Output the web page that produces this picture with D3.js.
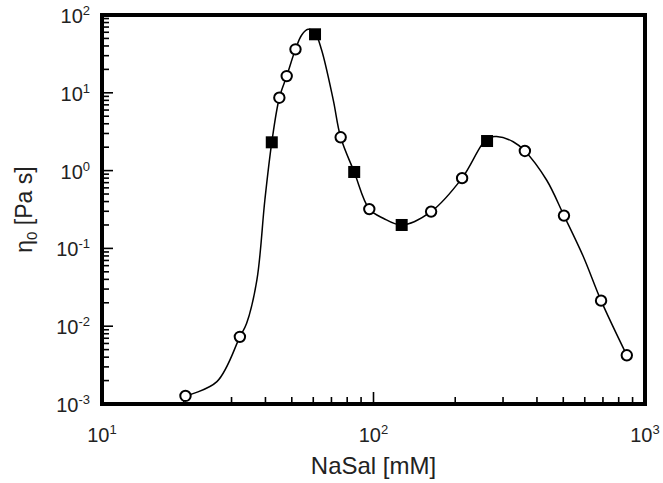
<!DOCTYPE html>
<html><head><meta charset="utf-8">
<script src="https://cdn.jsdelivr.net/npm/d3@7"></script>
<style>body{margin:0;background:#fff}svg{display:block}</style>
</head><body>
<svg id="c" width="663" height="483"></svg>
<script>
// open circles
const circleX = [20.3, 32.2, 45.0, 47.9, 51.6, 75.7, 96.5, 163, 212, 361, 503, 689, 857];
const circleY = [0.00127, 0.0073, 8.65, 16.4, 36.2, 2.68, 0.32, 0.297, 0.80, 1.79, 0.264, 0.0213, 0.00423];
// filled squares
const squareX = [42.2, 60.9, 84.9, 127, 262];
const squareY = [2.31, 56.5, 0.96, 0.20, 2.40];
// fitted line
const fitX = [20.3, 26.5, 32.2, 34.1, 37.2, 39.8, 42.2, 45.0, 47.9, 51.6, 54.4, 57.4, 60.9, 64.4, 71.1, 75.7, 84.9, 96.5, 108.6, 127, 163, 212, 262, 284, 327, 361, 434, 503, 593, 689, 857];
const fitY = [0.00127, 0.00194, 0.0073, 0.0109, 0.0393, 0.419, 2.31, 8.65, 16.4, 36.2, 55.4, 65.5, 58.8, 35.5, 8.07, 2.68, 0.96, 0.32, 0.244, 0.20, 0.297, 0.80, 2.59, 2.74, 2.35, 1.79, 0.757, 0.264, 0.0782, 0.0213, 0.00423];
const xTickExp = [1, 2, 3];
const yTickExp = [-3, -2, -1, 0, 1, 2];
const xTitle = "NaSal [mM]";

const svg = d3.select("#c");
const L = 102, R = 645, T = 15, B = 404;
const x = d3.scaleLog().domain([10, 1000]).range([L, R]);
const y = d3.scaleLog().domain([1e-3, 1e2]).range([B, T]);
const font = "'Liberation Sans', Arial, sans-serif";

// minor + major ticks
const xMinor = [], yMinor = [];
for (let e = 1; e < 3; e++) for (let m = 2; m <= 9; m++) xMinor.push(m * Math.pow(10, e));
for (let e = -3; e < 2; e++) for (let m = 2; m <= 9; m++) yMinor.push(m * Math.pow(10, e));
const tg = svg.append("g").attr("stroke", "#000").attr("stroke-width", 1.6);
tg.selectAll(".xm").data(xMinor).join("line")
  .attr("x1", d => x(d)).attr("x2", d => x(d)).attr("y1", B).attr("y2", B - 7);
tg.selectAll(".xM").data(xTickExp).join("line")
  .attr("x1", d => x(Math.pow(10, d))).attr("x2", d => x(Math.pow(10, d))).attr("y1", B).attr("y2", B - 12);
tg.selectAll(".ym").data(yMinor).join("line")
  .attr("y1", d => y(d)).attr("y2", d => y(d)).attr("x1", L).attr("x2", L + 7);
tg.selectAll(".yM").data(yTickExp).join("line")
  .attr("y1", d => y(Math.pow(10, d))).attr("y2", d => y(Math.pow(10, d))).attr("x1", L).attr("x2", L + 11);

// frame
svg.append("path").attr("d", `M${L},${T}H${R}V${B}H${L}Z`)
  .attr("fill", "none").attr("stroke", "#000").attr("stroke-width", 4).attr("stroke-linejoin", "miter");

// tick labels
const xl = svg.selectAll(".xl").data(xTickExp).join("text")
  .attr("x", d => x(Math.pow(10, d))).attr("y", 442)
  .attr("text-anchor", "middle").attr("font-family", font).attr("font-size", 20).attr("fill", "#222");
xl.append("tspan").text("10");
xl.append("tspan").attr("font-size", 13).attr("dy", -8).text(d => d);

const yl = svg.selectAll(".yl").data(yTickExp).join("text")
  .attr("x", 90).attr("y", d => y(Math.pow(10, d)) + 8)
  .attr("text-anchor", "end").attr("font-family", font).attr("font-size", 20).attr("fill", "#222");
yl.append("tspan").text("10");
yl.append("tspan").attr("font-size", 13).attr("dy", -8).text(d => d);

// axis titles
svg.append("text").attr("x", (L + R) / 2).attr("y", 474).attr("text-anchor", "middle")
  .attr("font-family", font).attr("font-size", 24).attr("fill", "#222").text(xTitle);
const yt = svg.append("text").attr("transform", `translate(32,${(T + B) / 2}) rotate(-90)`)
  .attr("text-anchor", "middle").attr("font-family", font).attr("font-size", 23).attr("fill", "#222");
yt.append("tspan").text("η");
yt.append("tspan").attr("font-size", 15).attr("dy", 5).text("0");
yt.append("tspan").attr("dy", -5).text(" [Pa s]");

// fitted curve
const fit = fitX.map((v, i) => [v, fitY[i]]);
svg.append("path").datum(fit)
  .attr("d", d3.line().x(d => x(d[0])).y(d => y(d[1])).curve(d3.curveCatmullRom.alpha(0.5)))
  .attr("fill", "none").attr("stroke", "#000").attr("stroke-width", 1.5);

// markers
svg.selectAll(".ci").data(circleX.map((v, i) => [v, circleY[i]])).join("circle")
  .attr("cx", d => x(d[0])).attr("cy", d => y(d[1])).attr("r", 5.2)
  .attr("fill", "#fff").attr("stroke", "#000").attr("stroke-width", 2);
const s = 12;
svg.selectAll(".sq").data(squareX.map((v, i) => [v, squareY[i]])).join("rect")
  .attr("x", d => x(d[0]) - s / 2).attr("y", d => y(d[1]) - s / 2).attr("width", s).attr("height", s)
  .attr("fill", "#000");
</script>
</body></html>
